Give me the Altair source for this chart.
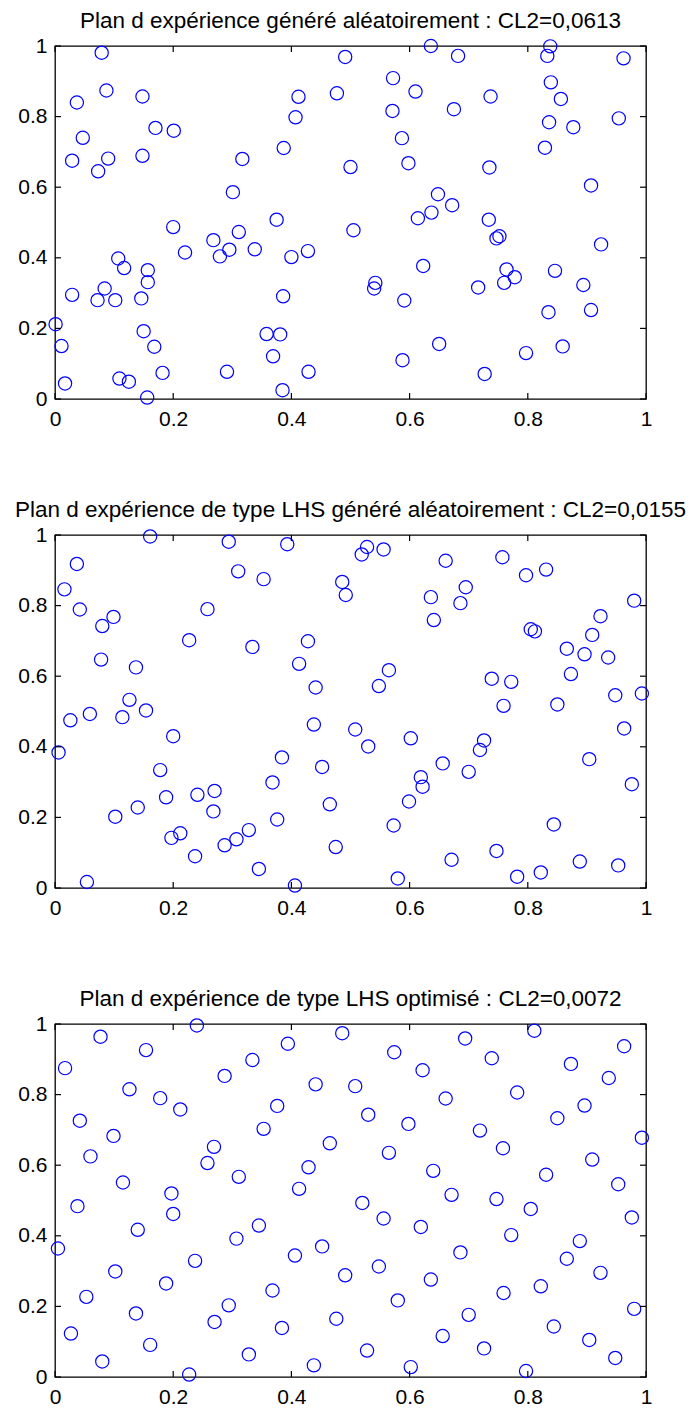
import altair as alt
import pandas as pd

# ---------------- data ----------------
titles = [
    "Plan d expérience généré aléatoirement : CL2=0,0613",
    "Plan d expérience de type LHS généré aléatoirement : CL2=0,0155",
    "Plan d expérience de type LHS optimisé : CL2=0,0072",
]

tick_values = [0, 0.2, 0.4, 0.6, 0.8, 1]

p1_x = [0.079, 0.037, 0.087, 0.148, 0.047, 0.170, 0.201, 0.029, 0.073, 0.090, 0.148, 0.301, 0.317, 0.387, 0.407, 0.412, 0.477, 0.491, 0.500,
        0.636, 0.682, 0.838, 0.833, 0.962, 0.572, 0.610, 0.737, 0.839, 0.856, 0.571, 0.675, 0.836, 0.877, 0.954, 0.587, 0.829, 0.598, 0.735, 0.907, 0.648, 0.672, 0.637,
        0.505, 0.614, 0.734, 0.747, 0.752, 0.924, 0.623, 0.542, 0.540, 0.591, 0.716, 0.764, 0.778, 0.760, 0.846, 0.894, 0.835, 0.907, 0.650, 0.588, 0.797, 0.859, 0.727,
        0.200, 0.375, 0.268, 0.311, 0.220, 0.279, 0.295, 0.338, 0.400, 0.428, 0.107, 0.117, 0.157, 0.157, 0.029, 0.072, 0.084, 0.102, 0.146, 0.386, 0.001, 0.011, 0.150, 0.168, 0.358, 0.381, 0.369, 0.017, 0.109, 0.125, 0.182, 0.156, 0.291, 0.385, 0.429]
p1_y = [0.981, 0.840, 0.874, 0.857, 0.740, 0.768, 0.760, 0.675, 0.645, 0.681, 0.689, 0.586, 0.680, 0.711, 0.798, 0.856, 0.866, 0.969, 0.657,
        1.000, 0.972, 0.999, 0.972, 0.965, 0.909, 0.871, 0.857, 0.897, 0.850, 0.816, 0.821, 0.784, 0.770, 0.795, 0.739, 0.712, 0.668, 0.656, 0.605, 0.580, 0.549, 0.528,
        0.478, 0.512, 0.508, 0.455, 0.461, 0.438, 0.377, 0.329, 0.313, 0.279, 0.316, 0.367, 0.345, 0.329, 0.363, 0.323, 0.246, 0.252, 0.156, 0.110, 0.130, 0.149, 0.071,
        0.487, 0.508, 0.450, 0.473, 0.415, 0.404, 0.423, 0.424, 0.402, 0.419, 0.398, 0.371, 0.365, 0.331, 0.295, 0.280, 0.313, 0.280, 0.285, 0.291, 0.212, 0.150, 0.192, 0.148, 0.184, 0.183, 0.121, 0.044, 0.058, 0.049, 0.074, 0.004, 0.077, 0.025, 0.077]

p2_x = [0.161, 0.037, 0.016, 0.042, 0.080, 0.099, 0.078, 0.137, 0.126, 0.227, 0.258, 0.294, 0.310, 0.353, 0.334, 0.393, 0.413, 0.428, 0.441,
        0.528, 0.519, 0.556, 0.486, 0.492, 0.661, 0.695, 0.686, 0.636, 0.641, 0.757, 0.797, 0.831, 0.980, 0.923, 0.805, 0.812, 0.909, 0.866, 0.896, 0.936, 0.873, 0.565, 0.548, 0.739, 0.772, 0.948, 0.993,
        0.759, 0.850, 0.508, 0.530, 0.602, 0.726, 0.719, 0.963, 0.904, 0.976, 0.656, 0.700, 0.619, 0.622, 0.599, 0.573, 0.844, 0.671, 0.747, 0.580, 0.782, 0.822, 0.888, 0.953,
        0.026, 0.059, 0.114, 0.154, 0.006, 0.200, 0.178, 0.188, 0.102, 0.140, 0.241, 0.270, 0.268, 0.197, 0.212, 0.237, 0.287, 0.307, 0.328, 0.345, 0.054, 0.368, 0.384, 0.376, 0.406, 0.438, 0.452, 0.465, 0.475]
p2_y = [0.996, 0.918, 0.846, 0.789, 0.742, 0.768, 0.647, 0.625, 0.533, 0.702, 0.790, 0.981, 0.897, 0.875, 0.683, 0.974, 0.635, 0.699, 0.568,
        0.966, 0.945, 0.959, 0.867, 0.830, 0.927, 0.852, 0.807, 0.824, 0.759, 0.937, 0.886, 0.902, 0.814, 0.770, 0.733, 0.727, 0.717, 0.678, 0.662, 0.653, 0.606, 0.617, 0.572, 0.593, 0.584, 0.546, 0.551,
        0.516, 0.520, 0.449, 0.401, 0.424, 0.418, 0.391, 0.452, 0.365, 0.294, 0.353, 0.329, 0.314, 0.287, 0.245, 0.177, 0.180, 0.080, 0.105, 0.027, 0.032, 0.044, 0.075, 0.064,
        0.475, 0.493, 0.484, 0.503, 0.384, 0.430, 0.334, 0.257, 0.202, 0.228, 0.264, 0.275, 0.217, 0.142, 0.155, 0.090, 0.121, 0.138, 0.164, 0.054, 0.017, 0.299, 0.370, 0.194, 0.007, 0.463, 0.343, 0.237, 0.116]

p3_x = [0.017, 0.077, 0.154, 0.240, 0.042, 0.126, 0.178, 0.212, 0.099, 0.060, 0.115, 0.287, 0.334, 0.394, 0.441, 0.376, 0.353, 0.269, 0.258, 0.311, 0.465, 0.429, 0.413, 0.486,
        0.574, 0.694, 0.811, 0.963, 0.622, 0.739, 0.873, 0.937, 0.508, 0.661, 0.782, 0.530, 0.598, 0.896, 0.850, 0.719, 0.993, 0.565, 0.758, 0.640, 0.909, 0.831, 0.953,
        0.520, 0.671, 0.747, 0.556, 0.619, 0.805, 0.976, 0.772, 0.686, 0.888, 0.866, 0.491, 0.548, 0.636, 0.923, 0.759, 0.822, 0.580, 0.700, 0.980, 0.656, 0.844, 0.904, 0.528, 0.726, 0.948, 0.602, 0.797,
        0.197, 0.038, 0.200, 0.005, 0.140, 0.307, 0.345, 0.452, 0.406, 0.102, 0.237, 0.188, 0.053, 0.137, 0.368, 0.294, 0.027, 0.270, 0.384, 0.476, 0.161, 0.080, 0.328, 0.227, 0.438]
p3_y = [0.875, 0.964, 0.926, 0.996, 0.726, 0.815, 0.790, 0.758, 0.683, 0.625, 0.551, 0.853, 0.898, 0.944, 0.829, 0.768, 0.703, 0.652, 0.606, 0.567, 0.662, 0.594, 0.533, 0.974,
        0.920, 0.959, 0.981, 0.937, 0.869, 0.903, 0.887, 0.847, 0.824, 0.789, 0.806, 0.743, 0.717, 0.769, 0.733, 0.698, 0.678, 0.635, 0.648, 0.584, 0.616, 0.573, 0.546,
        0.493, 0.516, 0.504, 0.449, 0.425, 0.476, 0.452, 0.402, 0.353, 0.385, 0.335, 0.288, 0.313, 0.276, 0.295, 0.238, 0.257, 0.217, 0.176, 0.193, 0.116, 0.143, 0.105, 0.075, 0.081, 0.054, 0.028, 0.017,
        0.520, 0.484, 0.462, 0.364, 0.417, 0.392, 0.429, 0.370, 0.344, 0.299, 0.329, 0.265, 0.227, 0.180, 0.245, 0.203, 0.123, 0.156, 0.139, 0.165, 0.091, 0.044, 0.064, 0.007, 0.033]

# ---------------- styling ----------------
FONT = "Liberation Sans"
W, H = 591, 353
TICK = 6


def panel(xs, ys, title):
    df = pd.DataFrame({"x": xs, "y": ys})
    tdf = pd.DataFrame({"t": tick_values})
    sx = alt.Scale(domain=[0, 1], nice=False, zero=False)
    sy = alt.Scale(domain=[0, 1], nice=False, zero=False)
    ax = alt.Axis(values=tick_values, ticks=False, domain=False, grid=False, title=None,
                  labelFontSize=21, labelFont=FONT, labelColor="black", labelPadding=9,
                  labelFlush=False, format="~g")
    ay = alt.Axis(values=tick_values, ticks=False, domain=False, grid=False, title=None,
                  labelFontSize=21, labelFont=FONT, labelColor="black", labelPadding=8,
                  labelFlush=False, format="~g")
    pts = alt.Chart(df).mark_point(shape="circle", filled=False, size=175, strokeWidth=1.2,
                                   color="#0000ff", opacity=1).encode(
        x=alt.X("x:Q", scale=sx, axis=ax),
        y=alt.Y("y:Q", scale=sy, axis=ay),
    )
    tk = alt.Chart(tdf).mark_rule(color="black", strokeWidth=1.2)
    left = tk.encode(y=alt.Y("t:Q", scale=sy, axis=ay), x=alt.value(0), x2=alt.value(TICK))
    right = tk.encode(y=alt.Y("t:Q", scale=sy, axis=ay), x=alt.value(W - TICK), x2=alt.value(W))
    bottom = tk.encode(x=alt.X("t:Q", scale=sx, axis=ax), y=alt.value(H - TICK), y2=alt.value(H))
    top = tk.encode(x=alt.X("t:Q", scale=sx, axis=ax), y=alt.value(0), y2=alt.value(TICK))
    return alt.layer(pts, left, right, bottom, top).properties(
        width=W, height=H,
        title=alt.Title(title, fontSize=22.5, font=FONT, fontWeight="normal", color="black",
                        anchor="middle", frame="group", offset=3),
    )


chart = alt.vconcat(
    panel(p1_x, p1_y, titles[0]),
    panel(p2_x, p2_y, titles[1]),
    panel(p3_x, p3_y, titles[2]),
    spacing=67,
).properties(
    background="white",
    padding={"left": 6, "top": 0, "right": 0, "bottom": 0},
).configure_view(stroke="black", strokeWidth=1.3)

chart.save("out.html", embed_options={"renderer": "svg", "actions": False})
